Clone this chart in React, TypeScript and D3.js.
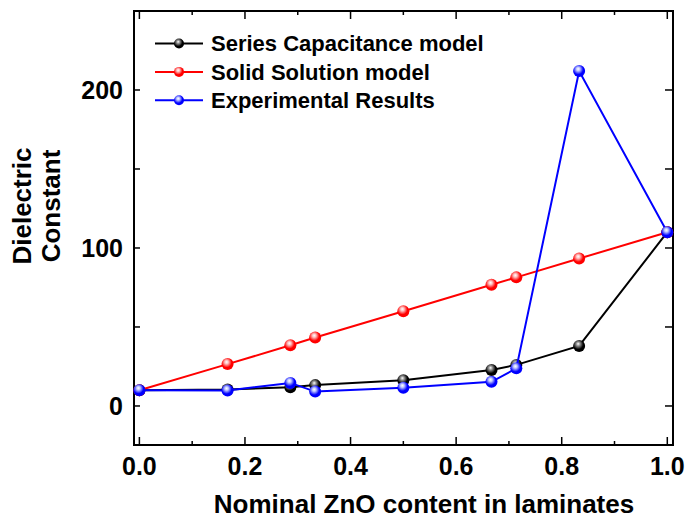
import { scaleLinear, line } from 'd3'

const width = 688
const height = 519
const frame = { left: 134, right: 673, top: 11, bottom: 445 }

const zno = [0, 0.167, 0.286, 0.333, 0.5, 0.667, 0.714, 0.833, 1.0]
const seriesCap = [10, 10.5, 11.8, 13.2, 16.3, 22.8, 26, 38, 110]
const solidSol = [10, 26.5, 38.4, 43.3, 60, 76.7, 81.4, 93.3, 110]
const experimental = [10, 9.8, 14.6, 9.1, 11.6, 15.3, 23.8, 212, 110]

const xTicks = [0, 0.2, 0.4, 0.6, 0.8, 1.0]
const xMinor = [0.1, 0.3, 0.5, 0.7, 0.9]
const yTicks = [0, 100, 200]
const yMinor = [50, 150]

const seriesList = [
  { name: 'Series Capacitance model', values: seriesCap, color: '#000000', light: '#9a9a9a', id: 'gBlack' },
  { name: 'Solid Solution model', values: solidSol, color: '#ff0000', light: '#ffc0c0', id: 'gRed' },
  { name: 'Experimental Results', values: experimental, color: '#0000ff', light: '#c0c8ff', id: 'gBlue' },
]

const x = scaleLinear().domain([-0.0102, 1.0108]).range([frame.left, frame.right])
const y = scaleLinear().domain([-24.7, 250]).range([frame.bottom, frame.top])

const font = '"Liberation Sans", Arial, sans-serif'

const App = () => {
  const path = line<number>()
    .x((_, i) => x(zno[i]))
    .y((d) => y(d))

  return (
    <svg
      width={width}
      height={height}
      viewBox={`0 0 ${width} ${height}`}
      style={{ position: 'absolute', left: 0, top: 0, background: '#fff' }}
      fontFamily={font}
      fontWeight="bold"
    >
      <defs>
        {seriesList.map((s) => (
          <radialGradient key={s.id} id={s.id} cx="0.42" cy="0.38" r="0.6" fx="0.42" fy="0.32">
            <stop offset="0" stopColor="#ffffff" />
            <stop offset="0.25" stopColor={s.light} />
            <stop offset="0.7" stopColor={s.color} />
            <stop offset="1" stopColor={s.color} />
          </radialGradient>
        ))}
      </defs>

      <rect width={width} height={height} fill="#fff" />

      {/* frame */}
      <rect
        x={frame.left}
        y={frame.top}
        width={frame.right - frame.left}
        height={frame.bottom - frame.top}
        fill="none"
        stroke="#000"
        strokeWidth={2}
      />

      {/* x ticks, bottom and top */}
      {xTicks.map((t) => (
        <g key={`xt${t}`} stroke="#000" strokeWidth={1.5}>
          <line x1={x(t)} x2={x(t)} y1={frame.bottom} y2={frame.bottom - 8} />
          <line x1={x(t)} x2={x(t)} y1={frame.top} y2={frame.top + 8} />
        </g>
      ))}
      {xMinor.map((t) => (
        <g key={`xm${t}`} stroke="#000" strokeWidth={1.5}>
          <line x1={x(t)} x2={x(t)} y1={frame.bottom} y2={frame.bottom - 4} />
          <line x1={x(t)} x2={x(t)} y1={frame.top} y2={frame.top + 4} />
        </g>
      ))}
      {xTicks.map((t) => (
        <text key={`xl${t}`} x={x(t)} y={475} textAnchor="middle" fontSize={25}>
          {t.toFixed(1)}
        </text>
      ))}

      {/* y ticks, left and right */}
      {[...yTicks, ...yMinor].map((t) => (
        <g key={`yt${t}`} stroke="#000" strokeWidth={1.5}>
          <line x1={frame.left} x2={frame.left + 6} y1={y(t)} y2={y(t)} />
          <line x1={frame.right} x2={frame.right - 8} y1={y(t)} y2={y(t)} />
        </g>
      ))}
      {yTicks.map((t) => (
        <text key={`yl${t}`} x={frame.left - 11} y={y(t)} dy="0.36em" textAnchor="end" fontSize={25}>
          {t}
        </text>
      ))}

      {/* axis titles */}
      <text x={424} y={513} textAnchor="middle" fontSize={26}>
        Nominal ZnO content in laminates
      </text>
      <g transform="translate(22, 206) rotate(-90)">
        <text x={0} y={9} textAnchor="middle" fontSize={26}>
          Dielectric
        </text>
        <text x={0} y={38} textAnchor="middle" fontSize={26}>
          Constant
        </text>
      </g>

      {/* series */}
      {seriesList.map((s) => (
        <g key={s.name}>
          <path d={path(s.values) ?? ''} fill="none" stroke={s.color} strokeWidth={2} />
          {s.values.map((v, i) => (
            <circle key={i} cx={x(zno[i])} cy={y(v)} r={6} fill={`url(#${s.id})`} />
          ))}
        </g>
      ))}

      {/* legend */}
      {seriesList.map((s, i) => {
        const ly = 43.5 + i * 28.4
        return (
          <g key={`lg${s.name}`}>
            <line x1={155} x2={203} y1={ly} y2={ly} stroke={s.color} strokeWidth={2} />
            <circle cx={179} cy={ly} r={5} fill={`url(#${s.id})`} />
            <text x={211} y={ly} dy="0.36em" fontSize={22}>
              {s.name}
            </text>
          </g>
        )
      })}
    </svg>
  )
}

export default App
